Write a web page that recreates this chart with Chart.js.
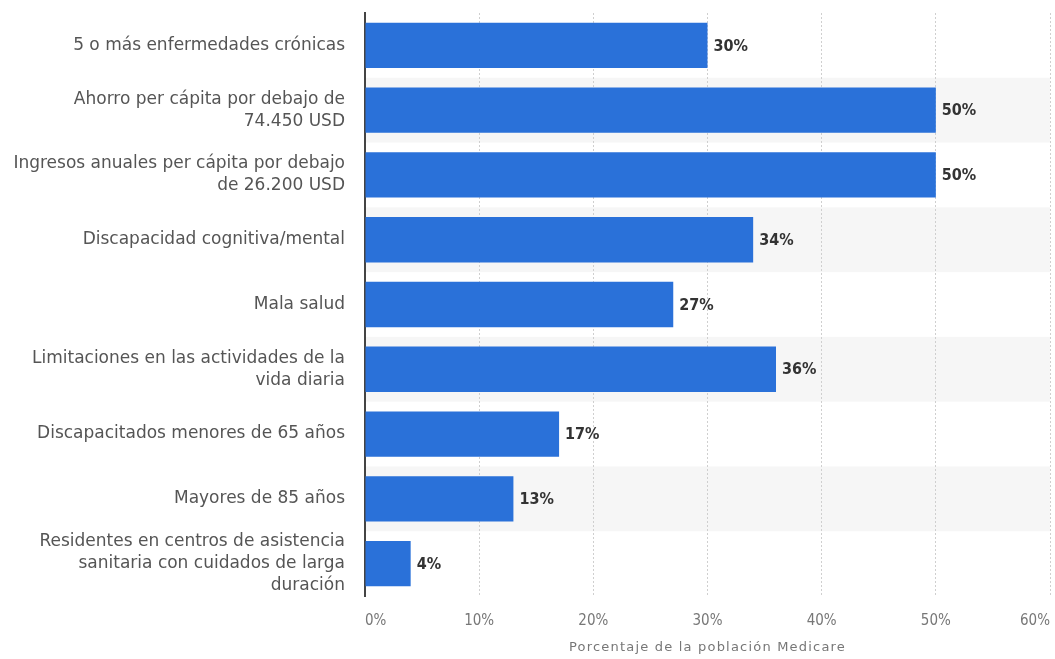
<!DOCTYPE html>
<html>
<head>
<meta charset="utf-8">
<script src="https://cdn.jsdelivr.net/npm/chart.js@4/dist/chart.umd.min.js"></script>
<style>
  html, body { margin: 0; padding: 0; background: #fff; }
  #wrap { width: 1055px; height: 659px; position: relative; }
</style>
</head>
<body>
<div id="wrap"><canvas id="c"></canvas></div>
<script>
// Categories (multi-line labels as arrays)
const categories = [
  ['5 o más enfermedades crónicas'],
  ['Ahorro per cápita por debajo de', '74.450 USD'],
  ['Ingresos anuales per cápita por debajo', 'de 26.200 USD'],
  ['Discapacidad cognitiva/mental'],
  ['Mala salud'],
  ['Limitaciones en las actividades de la', 'vida diaria'],
  ['Discapacitados menores de 65 años'],
  ['Mayores de 85 años'],
  ['Residentes en centros de asistencia', 'sanitaria con cuidados de larga', 'duración']
];
// Share of Medicare population (%)
const values = [30, 50, 50, 34, 27, 36, 17, 13, 4];
const axisTitle = 'Porcentaje de la población Medicare';
const axisMax = 60;
const axisStep = 10;

// Alternating light row bands inside the plot area (painted before the axes)
const rowBands = {
  id: 'rowBands',
  beforeDraw(chart) {
    const { ctx, chartArea, scales } = chart;
    const y = scales.y;
    const n = categories.length;
    const h = (chartArea.bottom - chartArea.top) / n;
    ctx.save();
    ctx.fillStyle = '#f6f6f6';
    for (let i = 0; i < n; i++) {
      if (i % 2 === 1) {
        const cy = y.getPixelForValue(i);
        ctx.fillRect(chartArea.left, cy - h / 2, chartArea.right - chartArea.left, h);
      }
    }
    ctx.restore();
  }
};

// Value labels at the end of each bar
const valueLabels = {
  id: 'valueLabels',
  afterDatasetsDraw(chart) {
    const { ctx } = chart;
    const meta = chart.getDatasetMeta(0);
    ctx.save();
    ctx.font = 'bold 16px "DejaVu Sans Condensed", "DejaVu Sans"';
    ctx.fillStyle = '#333333';
    ctx.textAlign = 'left';
    ctx.textBaseline = 'middle';
    meta.data.forEach((bar, i) => {
      ctx.fillText(values[i] + '%', bar.x + 6, bar.y + 1);
    });
    ctx.restore();
  }
};

// Spaced-out axis title under the tick labels
const axisTitlePlugin = {
  id: 'axisTitlePlugin',
  afterDraw(chart) {
    const { ctx, chartArea } = chart;
    ctx.save();
    ctx.font = '13px "DejaVu Sans"';
    ctx.letterSpacing = '1.2px';
    ctx.fillStyle = '#777777';
    ctx.textAlign = 'center';
    ctx.textBaseline = 'middle';
    ctx.fillText(axisTitle, (chartArea.left + chartArea.right) / 2, chartArea.bottom + 52);
    ctx.restore();
  }
};

new Chart(document.getElementById('c'), {
  type: 'bar',
  data: {
    labels: categories,
    datasets: [{
      data: values,
      backgroundColor: '#2a71d9',
      borderWidth: 0,
      barPercentage: 0.7,
      categoryPercentage: 1.0
    }]
  },
  plugins: [rowBands, valueLabels, axisTitlePlugin],
  options: {
    indexAxis: 'y',
    responsive: true,
    maintainAspectRatio: false,
    animation: false,
    layout: { padding: { top: 13, right: 5, left: 0, bottom: 0 } },
    plugins: { legend: { display: false }, tooltip: { enabled: false } },
    scales: {
      x: {
        min: 0,
        max: axisMax,
        ticks: {
          stepSize: axisStep,
          callback: v => v + '%',
          color: '#777777',
          font: { family: '"DejaVu Sans Condensed", "DejaVu Sans"', size: 15 },
          padding: 16,
          align: 'inner'
        },
        grid: {
          color: '#cfcfcf',
          lineWidth: 1,
          drawTicks: false
        },
        border: { display: false, dash: [2, 2] },
        afterFit(scale) {
          scale.height = 63;
          scale.paddingLeft = 0;
          scale.paddingRight = 0;
        }
      },
      y: {
        ticks: {
          autoSkip: false,
          color: '#555555',
          font: { family: '"DejaVu Sans"', size: 17, lineHeight: '22px' },
          padding: 20
        },
        grid: { display: false, drawTicks: false },
        border: { display: true, color: '#444444', width: 2 },
        afterFit(scale) {
          scale.width = 365;
          scale.paddingTop = 0;
          scale.paddingBottom = 0;
        }
      }
    }
  }
});
</script>
</body>
</html>
